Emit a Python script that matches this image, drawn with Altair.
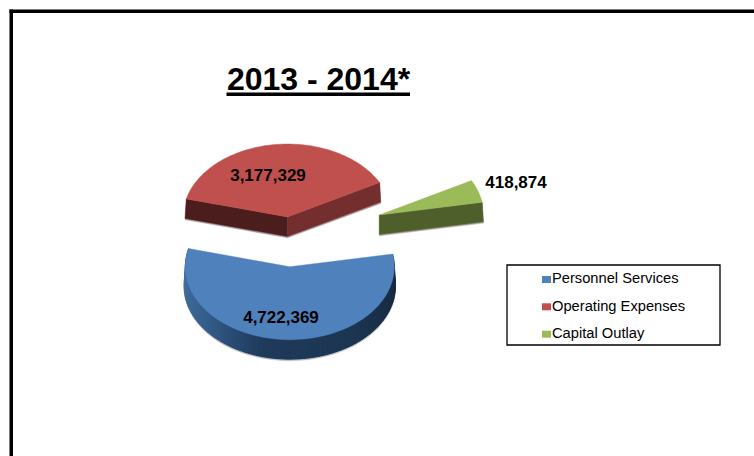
import math
import altair as alt
import pandas as pd

# Budget categories and amounts
CATEGORIES = ["Personnel Services", "Operating Expenses", "Capital Outlay"]
AMOUNTS = [4722369, 3177329, 418874]
TOP_COLORS = ["#4f81bd", "#c0504d", "#9bbb59"]
TITLE = "2013 - 2014*"

WIDTH, HEIGHT = 754, 456
START_ANGLE = 80.0          # clockwise from twelve o'clock, in the pie's own plane
RADIUS_X, RADIUS_Y = 104.5, 73.0
DEPTH = 19.5
FLARE = 1.012               # lower edge of the extrusion sits a touch wider
CENTERS = [(289.8, 266.7), (287.5, 217.0), (379.3, 215.0)]
LABEL_POS = [(281, 323), (268, 181), (516, 188)]
# Cut faces: [face at the wedge's end angle, face at its start angle]
CUT_COLORS = {"Operating Expenses": ["#732e2d", "#4b1d1c"], "Capital Outlay": ["#4e5f2c", None]}
RIM_STOPS = [(90, "#17293f"), (140, "#1c3552"), (190, "#1f3a5b"), (225, "#335c8a"), (262, "#41709f"), (290, "#4a7aa8")]

def top_point(c, deg):
    t = math.radians(deg)
    return (c[0] + RADIUS_X * math.sin(t), c[1] - RADIUS_Y * math.cos(t))

def drop(c, p, extra=0.0):
    return (c[0] + (p[0] - c[0]) * FLARE, p[1] + DEPTH + extra)

def poly(points, fill):
    ring = [list(p) for p in points] + [list(points[0])]
    return {"type": "Feature", "properties": {"fill": fill},
            "geometry": {"type": "Polygon", "coordinates": [ring]}}

def mix(deg):
    for (a, ca), (b, cb) in zip(RIM_STOPS, RIM_STOPS[1:]):
        if deg <= b:
            f = max(0.0, (deg - a) / (b - a))
            va = [int(ca[i:i + 2], 16) for i in (1, 3, 5)]
            vb = [int(cb[i:i + 2], 16) for i in (1, 3, 5)]
            return "#%02x%02x%02x" % tuple(round(x + (y - x) * f) for x, y in zip(va, vb))
    return RIM_STOPS[-1][1]

total = sum(AMOUNTS)
features, angle = [], START_ANGLE
arcs = []
for amount in AMOUNTS:
    sweep = amount / total * 360
    arcs.append((angle, angle + sweep))
    angle += sweep

# Back-to-front: green and red wedges first, then the blue one
for i in [2, 1, 0]:
    a0, a1 = arcs[i]
    c = CENTERS[i]
    steps = [a0 + (a1 - a0) * k / 80 for k in range(81)]
    edge = [top_point(c, d) for d in steps]
    if i == 0:
        features.append(poly(edge + [drop(c, p, 1.5) for p in reversed(edge)], "#b4b8bd"))
        # Overlapping rim slices, painted from the far end so no seams show
        for k in range(len(steps) - 1, 0, -1):
            d0, d1 = steps[k - 1], steps[k]
            d2 = steps[min(k + 2, len(steps) - 1)]
            p0, p2 = top_point(c, d0), top_point(c, d2)
            features.append(poly([p0, p2, drop(c, p2), drop(c, p0)], mix((d0 + d1) / 2)))
    else:
        cuts = CUT_COLORS[CATEGORIES[i]]
        for deg, fill in zip([a1, a0], cuts):
            if fill is None:
                continue
            p = top_point(c, deg)
            shade = [c, p, drop(c, p, 1.3), (c[0], c[1] + DEPTH + 1.3)]
            features.append(poly(shade, "#a89c9c"))
            features.append(poly([c, p, drop(c, p), (c[0], c[1] + DEPTH)], fill))
    features.append(poly([c] + edge, TOP_COLORS[i]))

wedges = alt.InlineData(values={"type": "FeatureCollection", "features": features},
                        format=alt.DataFormat(type="json", property="features"))

x_scale = alt.Scale(domain=[0, WIDTH], nice=False, zero=False)
y_scale = alt.Scale(domain=[HEIGHT, 0], nice=False, zero=False)
X = alt.X("x:Q", scale=x_scale, axis=None)
Y = alt.Y("y:Q", scale=y_scale, axis=None)

pie = (alt.Chart(wedges).mark_geoshape(strokeWidth=0.4)
       .encode(fill=alt.Color("properties.fill:N", scale=None, legend=None),
               stroke=alt.Color("properties.fill:N", scale=None, legend=None))
       .project(type="identity", scale=1, translate=[0, 0]))

def blocks(rows, color, **kw):
    return (alt.Chart(pd.DataFrame(rows, columns=["x", "x2", "y", "y2"]))
            .mark_rect(color=color, **kw)
            .encode(x=X, x2="x2:Q", y=Y, y2="y2:Q"))

frame = blocks([(9.5, WIDTH, 9.5, 13), (9.5, 13, 9.5, HEIGHT)], "#000000")
underline = blocks([(226.5, 410, 92.5, 96)], "#000000")
legend_box = (alt.Chart(pd.DataFrame([(507, 720, 265, 345)], columns=["x", "x2", "y", "y2"]))
              .mark_rect(fill="#ffffff", stroke="#000000", strokeWidth=1.3)
              .encode(x=X, x2="x2:Q", y=Y, y2="y2:Q"))

SWATCH_Y = [276, 303.3, 330.7]
BASELINES = [283, 310.7, 337.7]
swatches = (alt.Chart(pd.DataFrame({"x": [542] * 3, "x2": [551] * 3, "y": SWATCH_Y,
                                    "y2": [v + 7 for v in SWATCH_Y], "c": CATEGORIES, "f": TOP_COLORS}))
            .mark_rect()
            .encode(x=X, x2="x2:Q", y=Y, y2="y2:Q", fill=alt.Color("f:N", scale=None)))

def label(rows, size, bold, align="center"):
    return (alt.Chart(pd.DataFrame(rows, columns=["x", "y", "t"]))
            .mark_text(font="Liberation Sans", fontSize=size, fontWeight="bold" if bold else "normal",
                       align=align, baseline="alphabetic", color="#000000")
            .encode(x=X, y=Y, text="t:N"))

title = label([(318.5, 90, TITLE)], 32, True)
values = label([(x, y, f"{v:,}") for (x, y), v in zip(LABEL_POS, AMOUNTS)], 17, True)
legend_text = label([(552, y, n) for y, n in zip(BASELINES, CATEGORIES)], 14.7, False, "left")

chart = (alt.layer(pie, frame, underline, title, values, legend_box, swatches, legend_text)
         .properties(width=WIDTH, height=HEIGHT, padding=0, autosize=alt.AutoSizeParams(type="none"),
                     background="#ffffff")
         .configure_view(stroke=None))

chart.save("out.html", embed_options={"renderer": "svg", "actions": False})
